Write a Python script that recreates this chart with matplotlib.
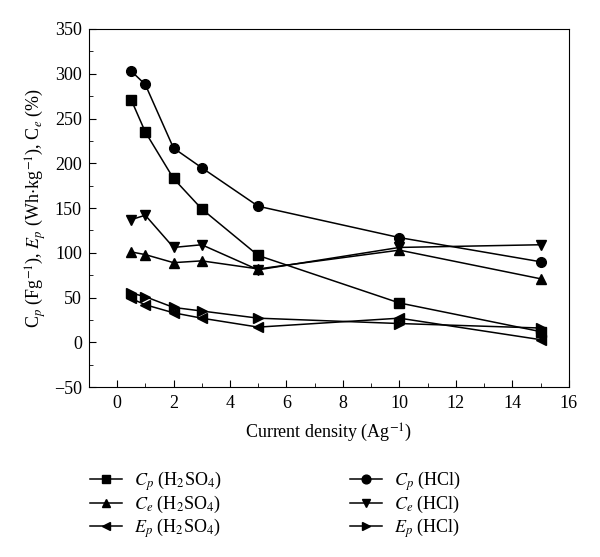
import matplotlib
matplotlib.use('Agg')
import matplotlib.pyplot as plt
from matplotlib.ticker import MultipleLocator

plt.rcParams['font.family'] = ['Liberation Serif', 'DejaVu Serif']
plt.rcParams['mathtext.fontset'] = 'stix'

# current density (A/g)
current = [0.5, 1, 2, 3, 5, 10, 15]

cp_h2so4 = [271, 235, 183, 149, 97, 44, 12]
ce_h2so4 = [101, 98, 89, 91, 82, 103, 71]
ep_h2so4 = [49, 42, 33, 27, 17, 27, 3]
cp_hcl = [303, 288, 217, 195, 152, 117, 90]
ce_hcl = [137, 142, 106, 109, 81, 106, 109]
ep_hcl = [55, 51, 39, 35, 27, 21, 16]

fig = plt.figure(figsize=(6, 5.57), dpi=100)
ax = fig.add_axes([0.148, 0.305, 0.8, 0.643])

style = dict(color='black', linewidth=1.1, markersize=7)
h1, = ax.plot(current, cp_h2so4, marker='s', label=r'$C_p$ (H$_2$SO$_4$)', **style)
h2, = ax.plot(current, ce_h2so4, marker='^', label=r'$C_e$ (H$_2$SO$_4$)', **style)
h3, = ax.plot(current, ep_h2so4, marker='<', label=r'$E_p$ (H$_2$SO$_4$)', **style)
h4, = ax.plot(current, cp_hcl, marker='o', label=r'$C_p$ (HCl)', **style)
h5, = ax.plot(current, ce_hcl, marker='v', label=r'$C_e$ (HCl)', **style)
h6, = ax.plot(current, ep_hcl, marker='>', label=r'$E_p$ (HCl)', **style)

ax.set_xlim(-1, 16)
ax.set_ylim(-50, 350)
ax.xaxis.set_major_locator(MultipleLocator(2))
ax.xaxis.set_minor_locator(MultipleLocator(1))
ax.yaxis.set_major_locator(MultipleLocator(50))
ax.yaxis.set_minor_locator(MultipleLocator(25))
ax.tick_params(which='both', direction='in', labelsize=13, top=False, right=False)
ax.tick_params(which='major', length=5)
ax.tick_params(which='minor', length=3)
ax.tick_params(axis='x', pad=6)
ax.tick_params(axis='y', pad=5)

ax.set_xlabel(r'Current density (Ag$^{-1}$)', fontsize=13, labelpad=7)
ax.set_ylabel(r'C$_p$ (Fg$^{-1}$), $E_p$ (Wh$\cdot$kg$^{-1}$), C$_e$ (%)', fontsize=13)

fig.legend(handles=[h1, h2, h3, h4, h5, h6], loc='upper left',
           bbox_to_anchor=(0.15, 0.157), ncol=2, frameon=False, fontsize=13,
           borderpad=0, borderaxespad=0, columnspacing=7.1,
           handlelength=1.78, handletextpad=0.67, labelspacing=0.05,
           markerscale=0.9)

fig.savefig('out.png', dpi=100)
